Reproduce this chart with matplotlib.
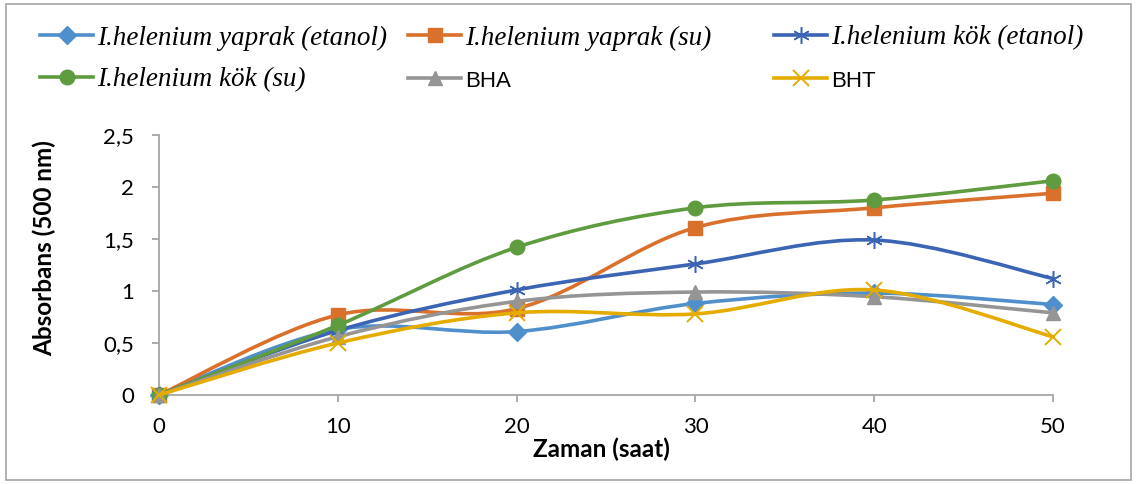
import numpy as np
import matplotlib
matplotlib.use('Agg')
import matplotlib.pyplot as plt
from matplotlib.path import Path
from matplotlib.patches import PathPatch, Rectangle
from matplotlib.lines import Line2D

# Data

zaman = [0, 10, 20, 30, 40, 50]
yaprak_etanol = [0, 0.63, 0.61, 0.88, 0.98, 0.87]
yaprak_su = [0, 0.77, 0.83, 1.61, 1.80, 1.94]
kok_etanol = [0, 0.62, 1.01, 1.26, 1.49, 1.12]
kok_su = [0, 0.67, 1.42, 1.80, 1.875, 2.06]
bha = [0, 0.56, 0.90, 0.99, 0.945, 0.79]
bht = [0, 0.50, 0.79, 0.78, 1.01, 0.56]

series_names = ['I.helenium yaprak (etanol)', 'I.helenium yaprak (su)', 'I.helenium kök (etanol)',
                'I.helenium kök (su)', 'BHA', 'BHT']
y_ticks = [0, 0.5, 1, 1.5, 2, 2.5]
y_tick_labels = ['0', '0,5', '1', '1,5', '2', '2,5']
x_ticks = [0, 10, 20, 30, 40, 50]

# Styles

colors = ['#4F8FCB', '#D9702B', '#3C64B4', '#5F9B3F', '#959595', '#E5AC00']
markers = ['D', 's', (6, 2, 0), 'o', '^', 'x']
marker_sizes = [9, 9.5, 12, 10.5, 10, 11]
edge_widths = [1, 1, 1.1, 1, 1, 1.4]
italic_flags = [True, True, True, True, False, False]


def smooth_path(x, y):
    # Excel style smoothed line: cubic bezier through every point
    pts = np.column_stack([x, y]).astype(float)
    n = len(pts)
    verts = [pts[0]]
    codes = [Path.MOVETO]
    for i in range(n - 1):
        p0 = pts[i - 1] if i > 0 else pts[i]
        p1 = pts[i]
        p2 = pts[i + 1]
        p3 = pts[i + 2] if i + 2 < n else pts[i + 1]
        c1 = p1 + (p2 - p0) / 6
        c2 = p2 - (p3 - p1) / 6
        verts += [c1, c2, p2]
        codes += [Path.CURVE4] * 3
    return Path(verts, codes)


fig = plt.figure(figsize=(11.37, 4.84), dpi=100)
ax = fig.add_axes([159/1137, 1 - 395/484, (1053-159)/1137, (395-135)/484])

all_series = [yaprak_etanol, yaprak_su, kok_etanol, kok_su, bha, bht]
handles = []
for i, vals in enumerate(all_series):
    patch = PathPatch(smooth_path(zaman, vals), fill=False, edgecolor=colors[i], lw=2.6,
                      capstyle='round', joinstyle='round', clip_on=False, zorder=2 + i)
    ax.add_patch(patch)
    mfc = colors[i] if markers[i] not in ['x', (6, 2, 0)] else 'none'
    ax.plot(zaman, vals, linestyle='none', marker=markers[i], markersize=marker_sizes[i],
            markerfacecolor=mfc, markeredgecolor=colors[i], markeredgewidth=edge_widths[i],
            clip_on=False, zorder=2 + i)
    handles.append(Line2D([], [], color=colors[i], lw=2.6, marker=markers[i],
                          markersize=marker_sizes[i], markerfacecolor=mfc,
                          markeredgecolor=colors[i], markeredgewidth=edge_widths[i]))

ax.set_xlim(0, 50)
ax.set_ylim(0, 2.5)
ax.set_xticks(x_ticks)
ax.set_xticklabels([str(t) for t in x_ticks])
ax.set_yticks(y_ticks)
ax.set_yticklabels(y_tick_labels)
for side in ['top', 'right']:
    ax.spines[side].set_visible(False)
for side in ['left', 'bottom']:
    ax.spines[side].set_color('#A6A6A6')
    ax.spines[side].set_linewidth(1.3)
ax.tick_params(axis='both', direction='out', length=5, width=1.3, color='#A6A6A6',
               labelsize=16, labelcolor='black')
ax.tick_params(axis='x', pad=11)
ax.tick_params(axis='y', pad=13)
for lab in ax.get_xticklabels() + ax.get_yticklabels():
    lab.set_fontfamily('Lato')

fig.text(44/1137, 1 - 248/484, 'Absorbans (500 nm)', rotation=90, ha='center', va='center',
         fontsize=17.5, fontweight='bold', family='Lato')
fig.text(601/1137, 1 - 449/484, 'Zaman (saat)', ha='center', va='center',
         fontsize=17.5, fontweight='bold', family='Lato')

# legend, two rows of three
leg_x = [40/1137, 408/1137, 774/1137]
leg_y = [1 - 38/484, 1 - 80/484]
for i, h in enumerate(handles):
    leg = fig.legend(handles=[h], labels=[series_names[i]], loc='center left',
                     bbox_to_anchor=(leg_x[i % 3], leg_y[i // 3]), frameon=False,
                     handlelength=1.96, handletextpad=0.15, borderpad=0, borderaxespad=0,
                     prop={'size': 19.5})
    t = leg.get_texts()[0]
    if italic_flags[i]:
        t.set_fontfamily('Liberation Serif')
        t.set_fontstyle('italic')
    else:
        t.set_fontfamily('Liberation Sans')
        t.set_fontsize(16)

fig.patches.append(Rectangle((6/1137, 4/484), 1 - 12/1137, 1 - 8/484, transform=fig.transFigure,
                             fill=False, edgecolor='#A6A6A6', lw=1.2))

fig.savefig('out.png', dpi=100, facecolor='white')
